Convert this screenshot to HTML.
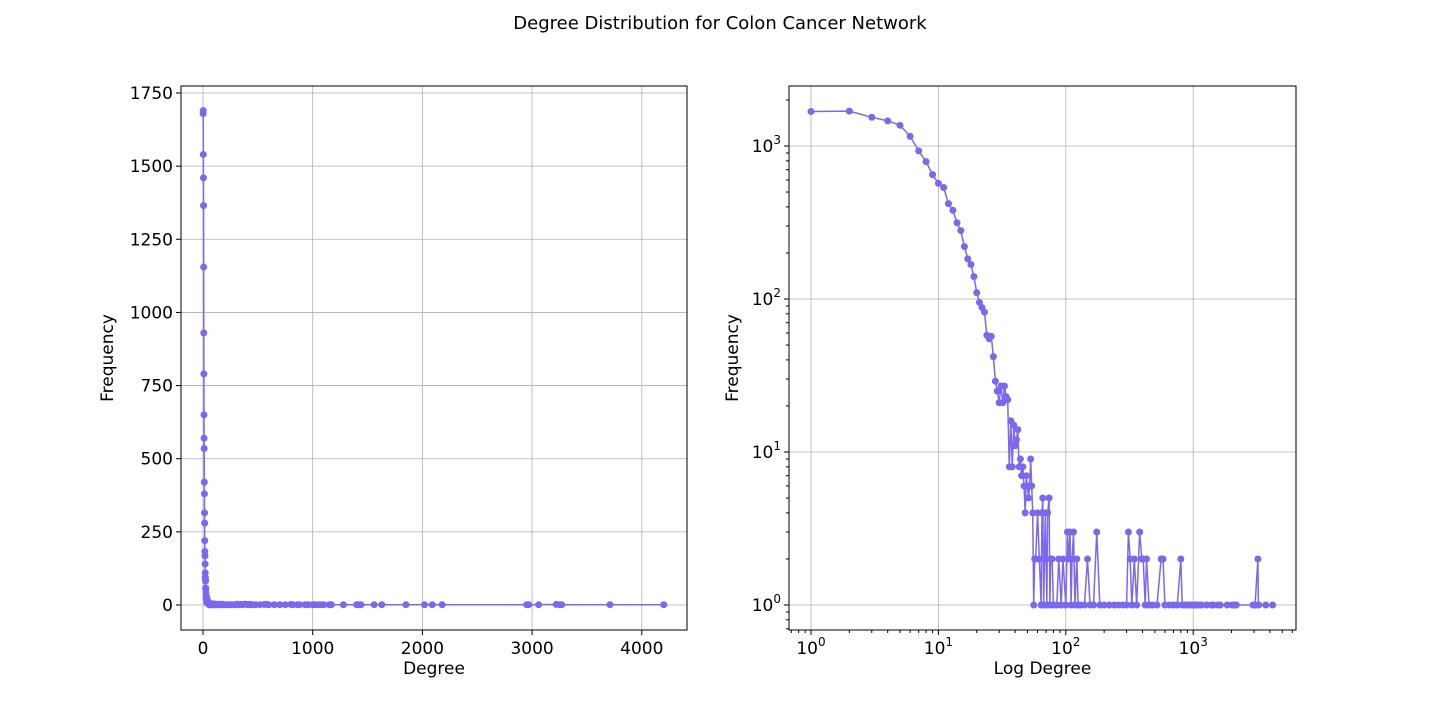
<!DOCTYPE html>
<html><head><meta charset="utf-8">
<style>
body{margin:0;background:#fff;}
svg{font-family:"DejaVu Sans","Liberation Sans",sans-serif;}
</style></head>
<body>
<svg id="fig" width="1440" height="720" viewBox="0 0 1440 720">
<rect width="1440" height="720" fill="#fff"/>
<text x="720" y="29" font-size="18" text-anchor="middle">Degree Distribution for Colon Cancer Network</text>
</svg>
<script>
const degrees=[1,2,3,4,5,6,7,8,9,10,
11,12,13,14,15,16,17,18,19,20,
21,22,23,24,25,26,27,28,29,30,
31,32,33,34,35,36,37,38,39,40,
41,42,43,44,45,46,47,48,49,50,
51,52,53,54,55,56,57,
58,60,62,64,65,66,67,68,69,70,
71,72,74,75,76,78,80,85,88,92,
95,100,103,105,108,110,112,115,118,122,
125,130,140,148,155,165,175,185,200,220,
240,260,280,300,310,320,330,345,360,380,
395,405,420,430,450,480,520,560,580,600,
650,700,750,800,820,860,880,930,960,1000,
1020,1050,1080,1100,1150,1170,1280,1400,1420,1440,
1560,1630,1850,2020,2090,2180,2950,2970,3060,3220,
3250,3270,3710,4200];
const freqs=[1680,1690,1540,1460,1365,1155,930,790,650,570,
535,420,380,315,280,220,183,168,140,110,
95,88,82,58,55,57,42,29,25,21,
27,21,27,23,22,8,16,8,15,11,
12,14,8,9,7,8,6,4,7,6,
5,6,9,6,4,1,2,
2,4,2,1,4,5,1,2,4,2,
1,4,5,1,2,2,1,1,2,1,
2,1,3,2,3,1,2,3,1,2,
1,1,1,2,1,1,3,1,1,1,
1,1,1,1,3,2,1,2,1,3,
2,2,1,2,1,1,1,2,2,1,
1,1,1,2,1,1,1,1,1,1,
1,1,1,1,1,1,1,1,1,1,
1,1,1,1,1,1,1,1,1,2,
1,1,1,1];
const linXTicks=[0,1000,2000,3000,4000];
const linYTicks=[0,250,500,750,1000,1250,1500,1750];
const logXTicks=[0,1,2,3];
const logYTicks=[0,1,2,3];
const NS="http://www.w3.org/2000/svg";
const svg=document.getElementById('fig');
const COL="#7b68ee";
function el(t,a,p){const e=document.createElementNS(NS,t);for(const k in a)e.setAttribute(k,a[k]);(p||svg).appendChild(e);return e;}
function panel(name,L,T,R,B,sx,sy,xt,yt,xlab,isLog){
  const g=el('g',{});
  
  
  xt.forEach(v=>{const x=sx(isLog?Math.pow(10,v):v);el('line',{x1:x,x2:x,y1:T,y2:B,stroke:'#b0b0b0','stroke-width':0.8},g);});
  yt.forEach(v=>{const y=sy(isLog?Math.pow(10,v):v);el('line',{x1:L,x2:R,y1:y,y2:y,stroke:'#b0b0b0','stroke-width':0.8},g);});
  const n=Math.min(degrees.length,freqs.length);
  const pts=[];for(let i=0;i<n;i++)pts.push(sx(degrees[i]).toFixed(2)+','+sy(freqs[i]).toFixed(2));
  const pl=el('polyline',{points:pts.join(' '),fill:'none',stroke:COL,'stroke-width':1.5},g);
  
  
  for(let i=0;i<n;i++){const c=el('circle',{cx:sx(degrees[i]),cy:sy(freqs[i]),r:3.5,fill:COL},g);
    
    }
  el('rect',{x:L,y:T,width:R-L,height:B-T,fill:'none',stroke:'#000','stroke-width':1},g);
  xt.forEach(v=>{const x=sx(isLog?Math.pow(10,v):v);el('line',{x1:x,x2:x,y1:B,y2:B+5,stroke:'#000'},g);
    const t=el('text',{x:x,y:B+24,'font-size':17,'text-anchor':'middle'},g);
    if(isLog){t.textContent='10';const s=el('tspan',{dy:-8,'font-size':12},t);s.textContent=v;}else t.textContent=v;
    });
  yt.forEach(v=>{const y=sy(isLog?Math.pow(10,v):v);el('line',{x1:L-5,x2:L,y1:y,y2:y,stroke:'#000'},g);
    const t=el('text',{x:L-8,y:y+6,'font-size':17,'text-anchor':'end'},g);
    if(isLog){t.textContent='10';const s=el('tspan',{dy:-8,'font-size':12},t);s.textContent=v;}else t.textContent=v;
    });
  if(isLog){
    for(let e=-1;e<4;e++)for(let m=2;m<10;m++){const v=m*Math.pow(10,e);const x=sx(v);if(x>L&&x<R)el('line',{x1:x,x2:x,y1:B,y2:B+3,stroke:'#000'},g);}
    for(let e=-1;e<4;e++)for(let m=2;m<10;m++){const v=m*Math.pow(10,e);const y=sy(v);if(y>T&&y<B)el('line',{x1:L-3,x2:L,y1:y,y2:y,stroke:'#000'},g);}
  }
  const xl=el('text',{x:(L+R)/2,y:B+44,'font-size':17,'text-anchor':'middle'},g);xl.textContent=xlab;
  
  const cy=(T+B)/2, cx=L-(isLog?51:68);
  const yl=el('text',{x:cx,y:cy,'font-size':17,'text-anchor':'middle',transform:`rotate(-90 ${cx} ${cy})`},g);yl.textContent='Frequency';
  
}
panel('linear-degree-plot',181,86,687,630,v=>203+v*0.1097,v=>605-v*(512/1750),linXTicks,linYTicks,'Degree',false);
panel('log-degree-plot',789,86,1296,630,v=>811+Math.log10(v)*127.4,v=>605-Math.log10(v)*153,logXTicks,logYTicks,'Log Degree',true);
</script>
</body></html>
